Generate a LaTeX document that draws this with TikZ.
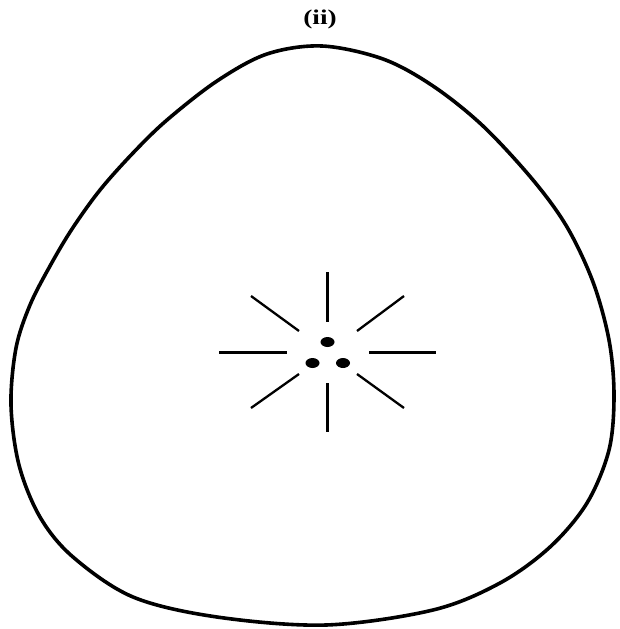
\documentclass[tikz,border=0pt]{standalone}
\usepackage{fontspec}
\setmainfont{Liberation Serif}
\usepackage{tikz}
\tikzset{
  outline/.style={
    draw,
    line width=3.6pt,
    line join=round
  },
  ray/.style={
    line width=3pt
  },
  slantray/.style={
    line width=2.3pt
  },
  spot/.style={
    fill=black
  },
  caption/.style={
    font=\fontsize{21}{21}\selectfont\bfseries,
    xscale=1.3,
    inner sep=0pt
  }
}

\begin{document}
\begin{tikzpicture}[x=1pt, y=-1pt]
  \useasboundingbox[fill=white] (0,0) rectangle (619,629);
  \node[caption] (title) at (320,19) {(ii)};

  % outer boundary
  \draw[outline] plot[smooth cycle, tension=0.55] coordinates {
    (322,46) (383,59) (433,86) (483,126) (533,180) (567,227) (593,282)
    (609,340) (614,395) (609,450) (587,503) (550,547) (500,583) (433,610)
    (326,625) (217,617) (133,597) (73,557) (40,517) (19,465) (11,405)
    (16,348) (30,305) (50,266) (72,229) (100,190) (133,153) (167,120)
    (217,81) (267,54)
  };

  % star rays
  \foreach \a/\b in {272/322, 383/432}
    \draw[ray] (327.5,\a) -- (327.5,\b);
  \foreach \a/\b in {219/287, 369/436}
    \draw[ray] (\a,352) -- (\b,352);
  \foreach \xa/\ya/\xb/\yb in {251/296/299/331, 404/296/357/331,
                               251/408/299/374, 404/408/357/374}
    \draw[slantray] (\xa,\ya) -- (\xb,\yb);

  % three spots
  \fill[spot] (327.5,342) ellipse [x radius=7, y radius=5];
  \fill[spot] (312.5,363) ellipse [x radius=7, y radius=5];
  \fill[spot] (343,363) ellipse [x radius=7, y radius=5];
\end{tikzpicture}
\end{document}
